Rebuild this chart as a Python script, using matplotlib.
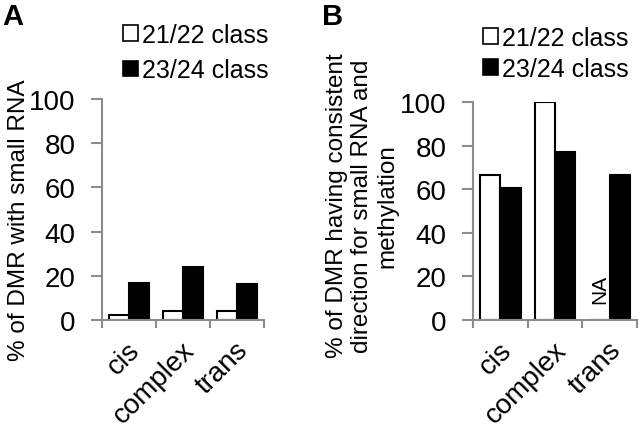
import matplotlib
matplotlib.use("Agg")
import matplotlib.pyplot as plt
import matplotlib.transforms as mtransforms
from matplotlib.patches import Patch

plt.rcParams['font.family'] = ['Liberation Sans', 'DejaVu Sans']

categories = ["cis", "complex", "trans"]
series_names = ["21/22 class", "23/24 class"]
a_small = [2.1, 4.1, 4.1]
a_large = [16.6, 23.8, 16.3]
b_small = [66.7, 100.0, 0.0]
b_large = [60.6, 76.9, 66.7]
yticks = [0, 20, 40, 60, 80, 100]

W, H = 641, 431
fig = plt.figure(figsize=(W/100, H/100), dpi=100)

def px_axes(left, top, right, bottom):
    return fig.add_axes([left/W, (H-bottom)/H, (right-left)/W, (bottom-top)/H])

grey = '#8c8c8c'
TICKFS = 20

def style(ax, small, large):
    n = len(categories)
    xs = list(range(n))
    bw = 0.37
    ax.bar([x - bw/2 for x in xs], small, width=bw, color='white', edgecolor='black', linewidth=1.5)
    ax.bar([x + bw/2 for x in xs], large, width=bw, color='black', edgecolor='black', linewidth=1.5)
    ax.set_xlim(-0.5, n - 0.5)
    ax.set_ylim(0, 100)
    ax.set_yticks(yticks)
    ax.set_yticklabels([str(t) for t in yticks], fontsize=TICKFS)
    ax.set_xticks([x - 0.5 for x in range(n + 1)])
    ax.set_xticklabels([])
    ax.set_xticks(xs, minor=True)
    ax.set_xticklabels(categories, minor=True, rotation=45, ha='right',
                       rotation_mode='anchor', fontsize=TICKFS)
    ax.tick_params(axis='x', which='minor', length=0, pad=12)
    ax.tick_params(axis='x', which='major', length=6, width=1.5, color=grey, direction='out')
    ax.tick_params(axis='y', length=8, width=1.5, color=grey, direction='out', pad=11)
    for s in ['top', 'right']:
        ax.spines[s].set_visible(False)
    for s in ['left', 'bottom']:
        ax.spines[s].set_color(grey)
        ax.spines[s].set_linewidth(1.5)
    off = mtransforms.ScaledTranslation(-2/100, 0, fig.dpi_scale_trans)
    for lab in ax.get_xticklabels(minor=True):
        lab.set_transform(lab.get_transform() + off)

axA = px_axes(102, 100, 264, 321)
style(axA, a_small, a_large)
fig.text(19/W, 1 - 220/H, "% of DMR with small RNA", rotation=90,
         ha='center', va='center', fontsize=17.5)

axB = px_axes(473, 103, 637, 321)
style(axB, b_small, b_large)
fig.text(362/W, 1 - 206/H,
         "% of DMR having consistent\ndirection for small RNA and\nmethylation",
         rotation=90, ha='center', va='center', fontsize=17.5,
         linespacing=1.2, multialignment='center')
axB.text(2 - 0.37/2, 14.4, "NA", rotation=90, ha='center', va='center', fontsize=15)

handles = [Patch(facecolor='white', edgecolor='black', linewidth=1.2),
           Patch(facecolor='black', edgecolor='black', linewidth=1.2)]

fig.legend(handles, series_names, loc='upper left', bbox_to_anchor=(123/W, 1 - 24/H),
           frameon=False, fontsize=18, handlelength=0.6, handleheight=0.6,
           handletextpad=0.15, labelspacing=0.45, borderaxespad=0, borderpad=0)
fig.legend(handles, series_names, loc='upper left', bbox_to_anchor=(483/W, 1 - 27/H),
           frameon=False, fontsize=18, handlelength=0.6, handleheight=0.6,
           handletextpad=0.15, labelspacing=0.28, borderaxespad=0, borderpad=0)

fig.text(2/W, 1 - 3/H, "A", fontsize=21, fontweight='bold', va='top', ha='left')
fig.text(322/W, 1 - 3/H, "B", fontsize=21, fontweight='bold', va='top', ha='left')

fig.savefig("out.png", dpi=100)
